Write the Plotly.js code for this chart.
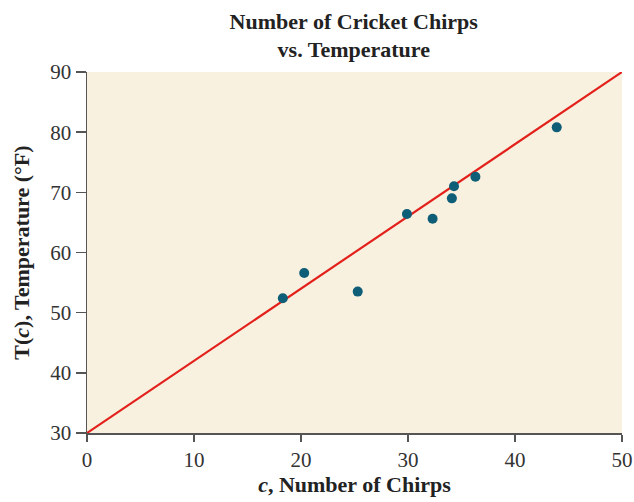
<!DOCTYPE html>
<html><head><meta charset="utf-8">
<script src="https://cdn.plot.ly/plotly-3.0.1.min.js"></script>
<style>html,body{margin:0;padding:0;background:#fff;}</style>
</head><body>
<div id="chart" style="width:634px;height:502px;"></div>
<script>
var chirps = [18.3, 20.3, 25.3, 29.9, 32.3, 34.1, 34.3, 36.3, 43.9];
var temps = [52.4, 56.6, 53.5, 66.4, 65.6, 69.0, 71.0, 72.6, 80.8];
var lineC = [0, 50];
var lineT = [30, 90];
var xTicks = [0, 10, 20, 30, 40, 50];
var yTicks = [30, 40, 50, 60, 70, 80, 90];

var serif = "Liberation Serif, DejaVu Serif, serif";
var data = [
  {x: lineC, y: lineT, mode: 'lines', type: 'scatter',
   line: {color: '#e3211c', width: 2.2}, hoverinfo: 'skip', cliponaxis: false},
  {x: chirps, y: temps, mode: 'markers', type: 'scatter',
   marker: {color: '#0f5e78', size: 10}}
];
var layout = {
  width: 634, height: 502,
  margin: {l: 87, r: 12, t: 72, b: 69},
  paper_bgcolor: '#ffffff',
  plot_bgcolor: '#f8f1df',
  showlegend: false,
  title: {text: '<b>Number of Cricket Chirps<br>vs. Temperature</b>',
          font: {family: serif, size: 22, color: '#222'},
          x: 0.558, xanchor: 'center', yref: 'container', y: 0.943, yanchor: 'top'},
  xaxis: {range: [0, 50], tickvals: xTicks, ticktext: xTicks.map(String),
          showgrid: false, zeroline: false, showline: true, linecolor: '#555', linewidth: 1.5,
          ticks: 'outside', ticklen: 7, tickcolor: '#555', tickwidth: 1.5,
          tickfont: {family: serif, size: 21, color: '#333'},
          title: {text: '<b><i>c</i>, Number of Chirps</b>', standoff: 6,
                  font: {family: serif, size: 22, color: '#222'}}},
  yaxis: {range: [30, 90], tickvals: yTicks, ticktext: yTicks.map(String),
          showgrid: false, zeroline: false, showline: true, linecolor: '#555', linewidth: 1.5,
          ticks: 'outside', ticklen: 10, tickcolor: '#555', tickwidth: 1.5,
          tickfont: {family: serif, size: 21, color: '#333'},
          title: {text: '<b>T(<i>c</i>), Temperature (°F)</b>', standoff: 14,
                  font: {family: serif, size: 22, color: '#222'}}}
};
Plotly.newPlot('chart', data, layout, {displayModeBar: false, staticPlot: true});
</script>
</body></html>
